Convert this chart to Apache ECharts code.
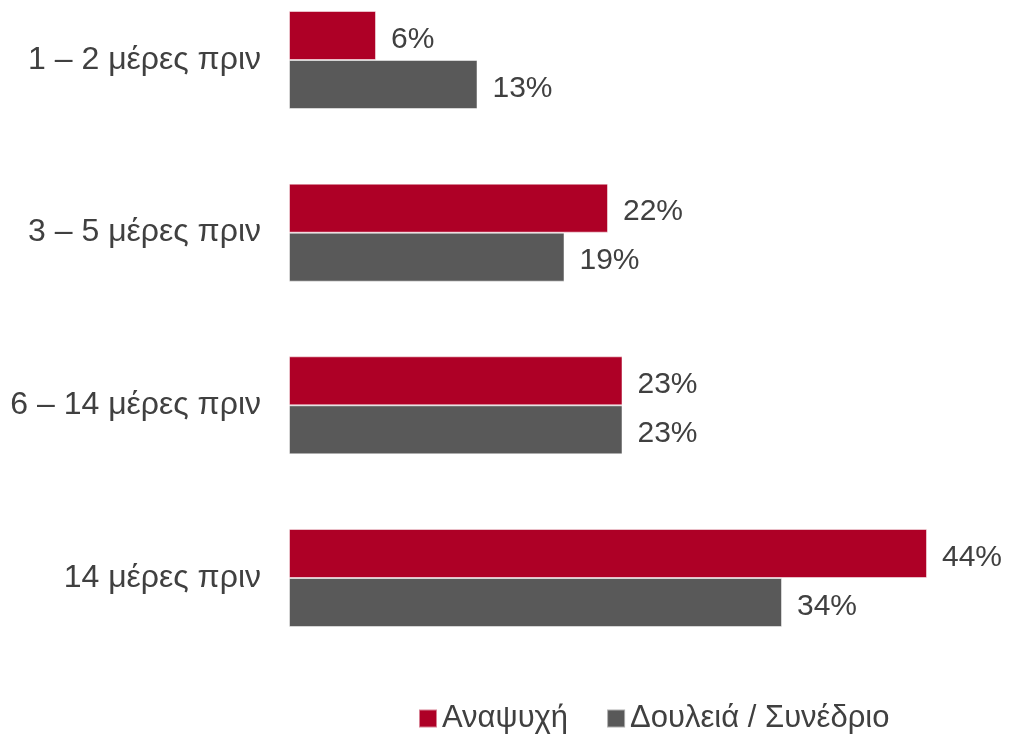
<!DOCTYPE html>
<html>
<head>
<meta charset="utf-8">
<script src="https://cdn.jsdelivr.net/npm/echarts@6/dist/echarts.min.js"></script>
<style>
  html, body { margin: 0; padding: 0; background: #fff; }
  #chart { width: 1009px; height: 736px; }
</style>
</head>
<body>
<div id="chart"></div>
<script>
var categories = ['1 – 2 μέρες πριν', '3 – 5 μέρες πριν', '6 – 14 μέρες πριν', '14 μέρες πριν']
var leisure = [6, 22, 23, 44]
var business = [13, 19, 23, 34]
var seriesNames = ['Αναψυχή', 'Δουλειά / Συνέδριο']

var font = 'Liberation Sans, Arial, sans-serif'
var textColor = '#404040'

var chart = echarts.init(document.getElementById('chart'))

function valueLabel () {
  return {
    show: true,
    position: 'right',
    distance: 15,
    offset: [0, 4],
    formatter: '{c}%',
    color: textColor,
    fontSize: 30,
    fontFamily: font
  }
}

var option = {
  animation: false,
  color: ['#ae0026', '#595959'],
  grid: {
    left: 289,
    right: 24,
    top: 60,
    bottom: 158
  },
  legend: {
    data: seriesNames,
    bottom: -3,
    left: 413,
    itemWidth: 18,
    itemHeight: 18,
    itemGap: 38,
    icon: 'rect',
    textStyle: {
      color: textColor,
      fontSize: 31,
      fontFamily: font
    }
  },
  xAxis: {
    type: 'value',
    min: 0,
    max: 48,
    show: false
  },
  yAxis: {
    type: 'category',
    inverse: true,
    boundaryGap: false,
    data: categories,
    axisLine: { show: false },
    axisTick: { show: false },
    axisLabel: {
      margin: 28,
      color: textColor,
      fontSize: 32,
      fontFamily: font
    }
  },
  series: [
    {
      name: seriesNames[0],
      type: 'bar',
      data: leisure,
      barWidth: 49,
      barGap: '0%',
      itemStyle: { borderColor: 'rgba(255,255,255,0.5)', borderWidth: 1 },
      label: valueLabel()
    },
    {
      name: seriesNames[1],
      type: 'bar',
      data: business,
      barWidth: 49,
      barGap: '0%',
      itemStyle: { borderColor: 'rgba(255,255,255,0.5)', borderWidth: 1 },
      label: valueLabel()
    }
  ]
}
chart.setOption(option)
</script>
</body>
</html>
